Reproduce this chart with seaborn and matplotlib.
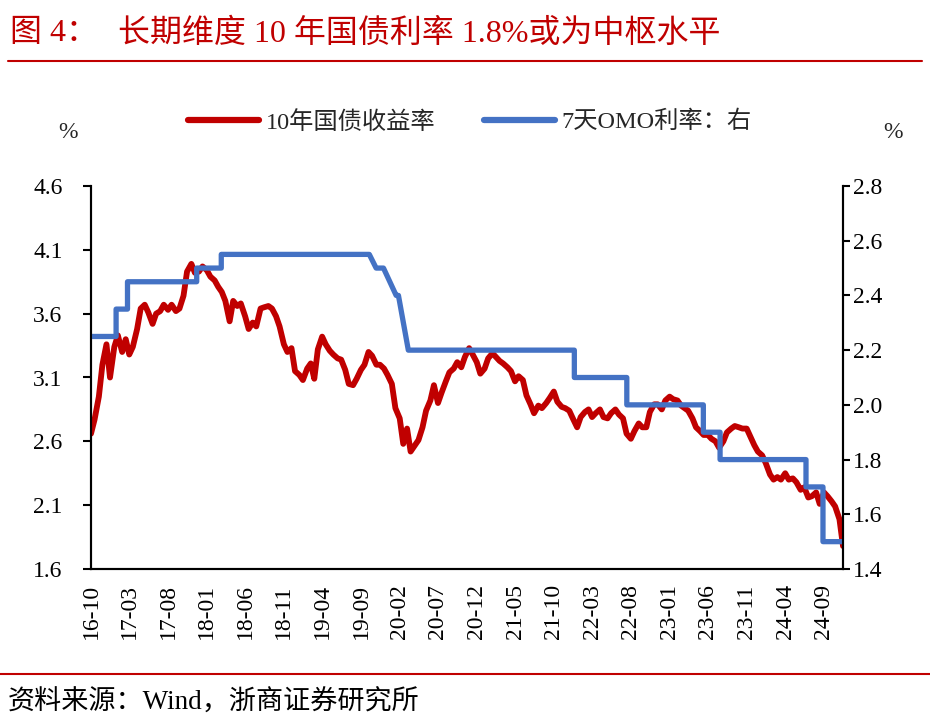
import matplotlib
matplotlib.use('Agg')
import matplotlib.pyplot as plt
from matplotlib.lines import Line2D
import pandas as pd
import seaborn as sns

# 10Y CGB yield, semi-monthly readings from 2016-10 (left axis, %)
yield_10y = [
    2.66, 2.77, 2.95, 3.20, 3.36, 3.10, 3.34, 3.43, 3.30, 3.40,
    3.28, 3.34, 3.48, 3.64, 3.67, 3.61, 3.52, 3.60, 3.62, 3.67,
    3.63, 3.67, 3.62, 3.64, 3.74, 3.93, 3.99, 3.92, 3.93, 3.97,
    3.94, 3.89, 3.86, 3.81, 3.77, 3.70, 3.54, 3.70, 3.66, 3.68,
    3.58, 3.48, 3.53, 3.50, 3.64, 3.65, 3.66, 3.64, 3.58, 3.50,
    3.36, 3.30, 3.33, 3.15, 3.12, 3.08, 3.17, 3.21, 3.09, 3.32,
    3.42, 3.36, 3.31, 3.28, 3.25, 3.24, 3.16, 3.05, 3.04, 3.09,
    3.16, 3.20, 3.30, 3.27, 3.20, 3.20, 3.17, 3.12, 3.05, 2.86,
    2.78, 2.58, 2.70, 2.52, 2.57, 2.61, 2.71, 2.84, 2.92, 3.04,
    2.90, 2.98, 3.07, 3.14, 3.17, 3.22, 3.18, 3.26, 3.33, 3.28,
    3.22, 3.13, 3.17, 3.25, 3.29, 3.26, 3.23, 3.21, 3.18, 3.15,
    3.07, 3.11, 3.08, 2.96, 2.89, 2.82, 2.88, 2.86, 2.90, 2.94,
    2.99, 2.91, 2.87, 2.86, 2.84, 2.78, 2.71, 2.79, 2.83, 2.85,
    2.79, 2.82, 2.85, 2.79, 2.78, 2.82, 2.85, 2.81, 2.78, 2.66,
    2.62, 2.68, 2.74, 2.71, 2.71, 2.83, 2.89, 2.89, 2.85, 2.92,
    2.95, 2.93, 2.92, 2.88, 2.86, 2.84, 2.78, 2.71, 2.68, 2.65,
    2.65, 2.62, 2.60, 2.55, 2.60, 2.67, 2.70, 2.72, 2.71, 2.70,
    2.70, 2.64, 2.57, 2.52, 2.49, 2.43, 2.34, 2.30, 2.32, 2.30,
    2.35, 2.30, 2.31, 2.28, 2.22, 2.24, 2.16, 2.17, 2.20, 2.11,
    2.20, 2.17, 2.13, 2.09, 1.99, 1.78,
]
yield_dates = pd.date_range('2016-10-01', periods=len(yield_10y), freq='SMS')

# 7-day OMO rate corner points (right axis, %)
omo_dates = pd.to_datetime([
    '2016-10-01', '2017-01-08', '2017-01-08', '2017-02-22', '2017-02-22',
    '2017-11-22', '2017-11-22', '2018-02-27', '2018-02-27', '2019-10-04',
    '2019-10-31', '2019-11-29', '2020-01-18', '2020-01-27', '2020-03-06',
    '2021-12-21', '2021-12-21', '2022-07-16', '2022-07-16', '2023-05-14',
    '2023-05-14', '2023-07-19', '2023-07-19', '2024-06-22', '2024-06-22',
    '2024-08-28', '2024-08-28', '2024-11-15',
])
omo_rate = [
    2.25, 2.25, 2.35, 2.35, 2.45,
    2.45, 2.50, 2.50, 2.55, 2.55,
    2.50, 2.50, 2.40, 2.40, 2.20,
    2.20, 2.10, 2.10, 2.00, 2.00,
    1.90, 1.90, 1.80, 1.80, 1.70,
    1.70, 1.50, 1.50,
]

left_ticks = [1.6, 2.1, 2.6, 3.1, 3.6, 4.1, 4.6]
right_ticks = [1.4, 1.6, 1.8, 2.0, 2.2, 2.4, 2.6, 2.8]
x_ticks = pd.date_range('2016-10-01', '2024-09-01', freq='5MS')

RED = '#C00000'
BLUE = '#4472C4'

sns.set_theme(style='white')
FONT = ['Liberation Serif', 'Noto Sans CJK SC', 'DejaVu Sans']
plt.rcParams['font.family'] = FONT
plt.rcParams['axes.unicode_minus'] = False

fig = plt.figure(figsize=(9.3, 7.28), dpi=100)
ax = fig.add_axes([91 / 930, 1 - 569 / 728, (843 - 91) / 930, (569 - 186) / 728])
ax2 = ax.twinx()

df_y = pd.DataFrame({'date': yield_dates, 'val': yield_10y})
df_o = pd.DataFrame({'date': omo_dates, 'val': omo_rate})
sns.lineplot(data=df_y, x='date', y='val', ax=ax, color=RED, lw=4.2,
             sort=False, estimator=None)
sns.lineplot(data=df_o, x='date', y='val', ax=ax2, color=BLUE, lw=3.8,
             sort=False, estimator=None)

ax.set_xlim(yield_dates[0], yield_dates[-1])
ax.set_ylim(1.6, 4.6)
ax2.set_ylim(1.4, 2.8)
ax.set_yticks(left_ticks)
ax.set_yticklabels([f'{v:.1f}' for v in left_ticks])
ax2.set_yticks(right_ticks)
ax2.set_yticklabels([f'{v:.1f}' for v in right_ticks])
ax.set_xticks(x_ticks)
ax.set_xticklabels([d.strftime('%y-%m') for d in x_ticks], rotation=90)
for a in (ax, ax2):
    a.set_xlabel('')
    a.set_ylabel('')
    a.spines['top'].set_visible(False)
    for s in ('left', 'right', 'bottom'):
        a.spines[s].set_color('black')
        a.spines[s].set_linewidth(1.5)
ax.tick_params(axis='y', direction='out', length=5.5, width=1.5,
               labelsize=17, colors='black', pad=15)
ax.tick_params(axis='x', direction='out', length=5, width=1.5,
               labelsize=17, colors='black', pad=6)
ax2.tick_params(axis='y', direction='out', length=5, width=1.5,
                labelsize=17, colors='black', pad=2)
ax.set_facecolor('white')

# legend above plot
handles = [Line2D([], [], color=RED, lw=4.5, solid_capstyle='round'),
           Line2D([], [], color=BLUE, lw=4.5, solid_capstyle='round')]
fig.legend(handles, ['10年国债收益率', '7天OMO利率：右'], loc='center',
           bbox_to_anchor=(470 / 930, 1 - 122 / 728), ncol=2, frameon=False,
           fontsize=17.5, handlelength=2.9, handletextpad=0.3, columnspacing=2.0)

fig.text(68 / 930, 1 - 133 / 728, '%', ha='center', va='center', fontsize=17)
fig.text(893 / 930, 1 - 133 / 728, '%', ha='center', va='center', fontsize=17)

# title and source
fig.text(10 / 930, 1 - 34 / 728, '图 4：', color=RED, fontsize=23,
         ha='left', va='center')
fig.text(118 / 930, 1 - 34 / 728, '长期维度 10 年国债利率 1.8%或为中枢水平',
         color=RED, fontsize=23, ha='left', va='center')
fig.add_artist(Line2D([8 / 930, 922 / 930], [1 - 61 / 728] * 2,
                      color=RED, lw=1.5))
fig.add_artist(Line2D([0, 1], [1 - 674 / 728] * 2, color=RED, lw=1.5))
fig.text(8 / 930, 1 - 703 / 728, '资料来源：Wind，浙商证券研究所', fontsize=19.5,
         ha='left', va='center', color='black')

fig.savefig('out.png', dpi=100, facecolor='white')
